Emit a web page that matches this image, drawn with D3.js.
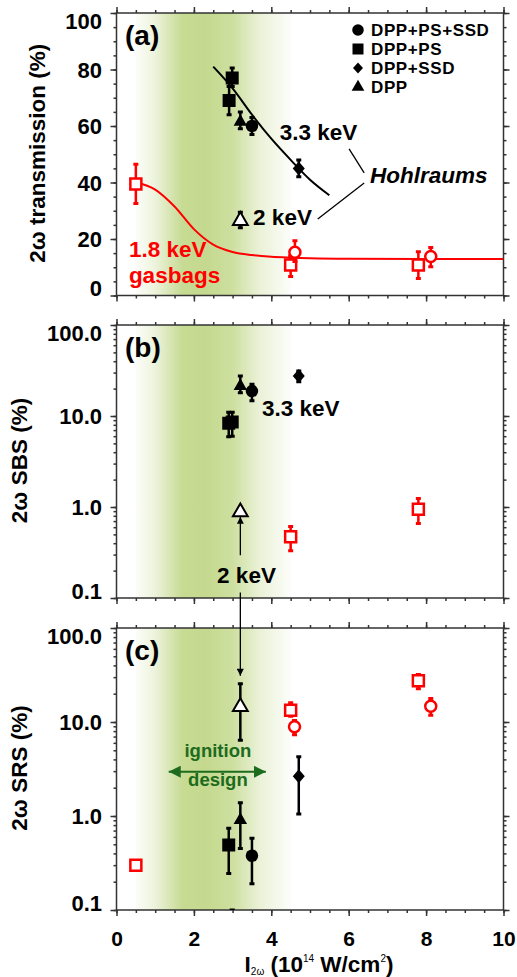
<!DOCTYPE html>
<html>
<head>
<meta charset="utf-8">
<script src="https://cdn.jsdelivr.net/npm/d3@7"></script>
<style>
body { margin: 0; background: #fff; }
text { font-family: "Liberation Sans", Arial, sans-serif; font-weight: bold; }
</style>
</head>
<body>
<script>
const svgWidth = 517; //Width of SVG.
const svgHeight = 977; //Height of SVG.
const plotLeft = 116.5, plotRight = 503.5;

//Tick values.
const xTicks = [0, 2, 4, 6, 8, 10];
const transTicks = [0, 20, 40, 60, 80, 100];
const logTicks = [0.1, 1, 10, 100];
const bandRange = [0.5, 4.5]; //ignition design band.

//Points are [intensity, value, errLow, errHigh].
//Panel (a) 2w transmission, 3.3 keV hohlraums.
const sqA = [[2.99, 77, 74, 80.5], [2.91, 69, 64, 74]];
const triA = [[3.2, 61.5, 59, 65]];
const circA = [[3.5, 60, 57, 63]];
const diaA = [[4.71, 45, 42, 48]];
const hohl2A = [[3.2, 26.5, 24, 29.5]];
const gasSqA = [[0.5, 39.5, 32.6, 46.5], [4.5, 10.8, 6.7, 14], [7.8, 10.8, 6, 15.5]];
const gasCircA = [[4.61, 15.3, 12, 19.4], [8.12, 13.8, 10.2, 17]];
//Fit curves.
const fitHohlX = [2.5, 3.0, 3.5, 4.0, 4.5, 5.0, 5.5];
const fitHohlY = [81, 73.3, 64, 55.5, 48, 41, 35.5];
const fitGasX = [0.5, 1.0, 1.5, 2.0, 2.5, 3.0, 3.5, 4.0, 4.5, 5.0, 6.0, 8.0, 10.0];
const fitGasY = [40, 37.5, 31.5, 23.5, 18, 15.4, 14.3, 13.7, 13.4, 13.2, 13.0, 12.9, 12.9];

//Panel (b) 2w SBS.
const sqB = [[2.9, 8.3, 5.9, 11], [2.99, 8.6, 6, 11]];
const triB = [[3.2, 21.3, 18, 27.5]];
const circB = [[3.5, 18.8, 14.7, 22.3]];
const diaB = [[4.71, 27.5, 23.8, 31.3]];
const hohl2B = [[3.2, 0.88]];
const gasSqB = [[4.5, 0.47, 0.33, 0.61], [7.8, 0.945, 0.66, 1.24]];
const gasCircB = [];

//Panel (c) 2w SRS.
const sqC = [[2.9, 0.49, 0.245, 0.74], [2.99, 0.05, 0.02, 0.1]];
const triC = [[3.2, 0.904, 0.45, 1.38]];
const circC = [[3.5, 0.378, 0.19, 0.58]];
const diaC = [[4.71, 2.65, 1.05, 4.27]];
const hohl2C = [[3.2, 14.5, 6.4, 25.6]];
const gasSqC = [[0.5, 0.30], [4.5, 13.3, 11.5, 16], [7.8, 27.4, 22.6, 32]];
const gasCircC = [[4.6, 8.88, 7.3, 10.4], [8.12, 14.7, 11.8, 17.8]];

const legendNames = ["DPP+PS+SSD", "DPP+PS", "DPP+SSD", "DPP"];

const axisColor = "#333";
const green = "#c4d98e";
const red = "#ff0000";

let svg = d3.select("body").append("svg")
	.attr("width", svgWidth)
	.attr("height", svgHeight);

let xScale = d3.scaleLinear().domain([0, 10]).range([plotLeft, plotRight]);

const panels = [
	{key: "a", label: "(a)", top: 13, bottom: 295.5, y: d3.scaleLinear().domain([0, 100]), major: transTicks, minor: d3.range(0, 101, 5), fmt: d3.format("d"), title: "2\u03c9 transmission (%)", titleX: 45,
		series: {sq: sqA, tri: triA, circ: circA, dia: diaA, hohl2: hohl2A, gasSq: gasSqA, gasCirc: gasCircA}},
	{key: "b", label: "(b)", top: 325, bottom: 598, y: d3.scaleLog().domain([0.1, 100]), major: logTicks, fmt: d3.format(".1f"), title: "2\u03c9 SBS (%)", titleX: 27,
		series: {sq: sqB, tri: triB, circ: circB, dia: diaB, hohl2: hohl2B, gasSq: gasSqB, gasCirc: gasCircB}},
	{key: "c", label: "(c)", top: 628, bottom: 910, y: d3.scaleLog().domain([0.1, 100]), major: logTicks, fmt: d3.format(".1f"), title: "2\u03c9 SRS (%)", titleX: 27,
		series: {sq: sqC, tri: triC, circ: circC, dia: diaC, hohl2: hohl2C, gasSq: gasSqC, gasCirc: gasCircC}}
];
panels.forEach(function(p) {
	p.y.range([p.bottom, p.top]);
	if (!p.minor) p.minor = p.y.ticks();
});

let defs = svg.append("defs");

//Green gradient band.
let grad = defs.append("linearGradient")
	.attr("id", "band")
	.attr("gradientUnits", "userSpaceOnUse")
	.attr("x1", xScale(bandRange[0])).attr("x2", xScale(bandRange[1]))
	.attr("y1", 0).attr("y2", 0);
[[0, 0.06], [0.12, 0.3], [0.3, 0.95], [0.45, 1], [0.62, 0.85], [0.8, 0.35], [1, 0.05]].forEach(function(s) {
	grad.append("stop").attr("offset", s[0]).attr("stop-color", green).attr("stop-opacity", s[1]);
});

function arrowMarker(id, color, w, h) {
	defs.append("marker")
		.attr("id", id)
		.attr("viewBox", "0 -5 10 10")
		.attr("refX", 10).attr("refY", 0)
		.attr("markerUnits", "userSpaceOnUse")
		.attr("markerWidth", w).attr("markerHeight", h)
		.attr("orient", "auto-start-reverse")
		.append("path").attr("d", "M0,-5L10,0L0,5Z").attr("fill", color);
}
arrowMarker("arrowBlack", "#000", 8, 7);
arrowMarker("arrowGreen", "#1d6b1d", 12, 12);

const diamondPath = "M0,-7L6,0L0,7L-6,0Z";
const shapes = {
	circ: d3.symbol().type(d3.symbolCircle).size(123)(),
	sq: d3.symbol().type(d3.symbolSquare).size(169)(),
	dia: diamondPath,
	tri: d3.symbol().type(d3.symbolTriangle).size(78)(),
	hohl2: d3.symbol().type(d3.symbolTriangle).size(95)(),
	gasSq: d3.symbol().type(d3.symbolSquare).size(121)(),
	gasCirc: d3.symbol().type(d3.symbolCircle).size(95)()
};
const styles = {
	circ: {fill: "#000", stroke: "none", color: "#000"},
	sq: {fill: "#000", stroke: "none", color: "#000"},
	dia: {fill: "#000", stroke: "none", color: "#000"},
	tri: {fill: "#000", stroke: "none", color: "#000"},
	hohl2: {fill: "#fff", stroke: "#000", sw: 2, color: "#000"},
	gasSq: {fill: "#fff", stroke: red, sw: 2.5, color: red},
	gasCirc: {fill: "#fff", stroke: red, sw: 2.5, color: red}
};

panels.forEach(function(p) {
	let g = svg.append("g").attr("class", "panel-" + p.key);
	let y = p.y;

	defs.append("clipPath").attr("id", "clip-" + p.key)
		.append("rect")
		.attr("x", plotLeft).attr("y", p.top)
		.attr("width", plotRight - plotLeft).attr("height", p.bottom - p.top);

	//Band.
	g.append("rect")
		.attr("x", xScale(bandRange[0]))
		.attr("y", p.top)
		.attr("width", xScale(bandRange[1]) - xScale(bandRange[0]))
		.attr("height", p.bottom - p.top)
		.attr("fill", "url(#band)");

	//Axes: major and minor ticks on all four sides, pointing out.
	function addAxis(axisFn, scale, values, size, transform, labels) {
		let ax = axisFn(scale).tickValues(values).tickSize(size).tickSizeOuter(0);
		if (!labels) ax.tickFormat("");
		let ag = g.append("g").attr("transform", transform).call(ax);
		ag.select(".domain").remove();
		ag.selectAll("line").attr("stroke", axisColor).attr("stroke-width", 1.5);
		return {ax: ax, ag: ag};
	}
	let left = addAxis(d3.axisLeft, y, p.major, 6, "translate(" + plotLeft + ",0)", true);
	left.ax.tickPadding(8.5).tickFormat(p.fmt);
	left.ag.call(left.ax).attr("font-size", 22).attr("fill", "#000");
	left.ag.select(".domain").remove();
	left.ag.selectAll("line").attr("stroke", axisColor).attr("stroke-width", 1.5);
	left.ag.selectAll("text").attr("fill", "#000")
		.attr("dy", function(d, i) {
			if (i === 0) return "0em";
			if (i === p.major.length - 1) return "0.72em";
			return "0.36em";
		});
	addAxis(d3.axisLeft, y, p.minor, 3, "translate(" + plotLeft + ",0)");
	addAxis(d3.axisRight, y, p.major, 6, "translate(" + plotRight + ",0)");
	addAxis(d3.axisRight, y, p.minor, 3, "translate(" + plotRight + ",0)");
	addAxis(d3.axisTop, xScale, xTicks, 6, "translate(0," + p.top + ")");
	addAxis(d3.axisTop, xScale, xScale.ticks(20), 3, "translate(0," + p.top + ")");
	addAxis(d3.axisBottom, xScale, xScale.ticks(20), 3, "translate(0," + p.bottom + ")");
	let bottom = addAxis(d3.axisBottom, xScale, xTicks, 6, "translate(0," + p.bottom + ")", p.key === "c");
	if (p.key === "c") {
		bottom.ax.tickPadding(15);
		bottom.ag.call(bottom.ax).attr("font-size", 21);
		bottom.ag.select(".domain").remove();
		bottom.ag.selectAll("line").attr("stroke", axisColor).attr("stroke-width", 1.5);
		bottom.ag.selectAll("text").attr("fill", "#000");
	}

	//Frame.
	g.append("rect")
		.attr("x", plotLeft).attr("y", p.top)
		.attr("width", plotRight - plotLeft).attr("height", p.bottom - p.top)
		.attr("fill", "none").attr("stroke", axisColor).attr("stroke-width", 1.5);

	//Y title.
	g.append("text")
		.attr("transform", "translate(" + p.titleX + "," + ((p.top + p.bottom) / 2 - 1) + ") rotate(-90)")
		.attr("text-anchor", "middle")
		.attr("font-size", 22.5)
		.text(p.title);

	//Panel label.
	g.append("text")
		.attr("x", plotLeft + 8.5).attr("y", p.top + 32)
		.attr("font-size", 28)
		.text(p.label);

	let marks = g.append("g").attr("clip-path", "url(#clip-" + p.key + ")");

	//Fit curves for panel (a).
	if (p.key === "a") {
		let line = d3.line().curve(d3.curveMonotoneX)
			.x(function(d) { return xScale(d[0]); })
			.y(function(d) { return y(d[1]); });
		marks.append("path")
			.datum(d3.zip(fitGasX, fitGasY))
			.attr("d", line).attr("fill", "none").attr("stroke", red).attr("stroke-width", 2);
		marks.append("path")
			.datum(d3.zip(fitHohlX, fitHohlY))
			.attr("d", line).attr("fill", "none").attr("stroke", "#000").attr("stroke-width", 2);
	}

	//Error bars and markers.
	["gasSq", "gasCirc", "hohl2", "sq", "tri", "circ", "dia"].forEach(function(k) {
		let data = p.series[k];
		let st = styles[k];
		let withErr = data.filter(function(d) { return d.length > 2; });
		marks.selectAll(".err-" + k)
			.data(withErr).enter()
			.append("line")
			.attr("x1", function(d) { return xScale(d[0]); })
			.attr("x2", function(d) { return xScale(d[0]); })
			.attr("y1", function(d) { return y(d[2]); })
			.attr("y2", function(d) { return y(d[3]); })
			.attr("stroke", st.color).attr("stroke-width", 2.5);
		[2, 3].forEach(function(j) {
			marks.selectAll(".cap" + j + "-" + k)
				.data(withErr).enter()
				.append("line")
				.attr("x1", function(d) { return xScale(d[0]) - 2.5; })
				.attr("x2", function(d) { return xScale(d[0]) + 2.5; })
				.attr("y1", function(d) { return y(d[j]); })
				.attr("y2", function(d) { return y(d[j]); })
				.attr("stroke", st.color).attr("stroke-width", 3);
		});
		marks.selectAll(".pt-" + k)
			.data(data).enter()
			.append("path")
			.attr("d", shapes[k])
			.attr("transform", function(d) { return "translate(" + xScale(d[0]) + "," + y(d[1]) + ")"; })
			.attr("fill", st.fill)
			.attr("stroke", st.stroke)
			.attr("stroke-width", st.sw || 0);
	});
});

let yA = panels[0].y, yB = panels[1].y, yC = panels[2].y;

//Panel (a) annotations.
let legend = svg.append("g");
["circ", "sq", "dia", "tri"].forEach(function(k, i) {
	let cy = 30 + i * 19;
	legend.append("path")
		.attr("d", k === "dia" ? "M0,-5.5L5,0L0,5.5L-5,0Z" : d3.symbol().type(k === "circ" ? d3.symbolCircle : k === "sq" ? d3.symbolSquare : d3.symbolTriangle).size(k === "sq" ? 121 : k === "circ" ? 105 : 70)())
		.attr("transform", "translate(358," + cy + ")")
		.attr("fill", "#000");
	legend.append("text")
		.attr("x", 371).attr("y", cy + 6)
		.attr("font-size", 17)
		.attr("letter-spacing", 0.6)
		.text(legendNames[i]);
});

function label(txt, xv, yPix, color, italic) {
	return svg.append("text")
		.attr("x", xScale(xv)).attr("y", yPix)
		.attr("font-size", 22.5)
		.attr("fill", color || "#000")
		.attr("font-style", italic ? "italic" : null)
		.text(txt);
}
label("3.3 keV", 4.22, yA(55));
label("Hohlraums", 6.55, yA(39.8), "#000", true);
label("2 keV", 3.53, yA(25));
label("1.8 keV", 0.32, yA(13.6), red);
label("gasbags", 0.32, yA(4.4), red);
[[[6.01, 51.9], [6.4, 43.4]], [[6.4, 39.8], [5.2, 27.1]]].forEach(function(seg) {
	svg.append("line")
		.attr("x1", xScale(seg[0][0])).attr("y1", yA(seg[0][1]))
		.attr("x2", xScale(seg[1][0])).attr("y2", yA(seg[1][1]))
		.attr("stroke", "#000").attr("stroke-width", 1.3);
});

//Panel (b) annotations.
label("3.3 keV", 3.76, yB(10));
label("2 keV", 2.6, yB(0.145));
svg.append("line")
	.attr("x1", xScale(3.2)).attr("x2", xScale(3.2))
	.attr("y1", yB(0.295)).attr("y2", yB(0.78))
	.attr("stroke", "#000").attr("stroke-width", 1.3)
	.attr("marker-end", "url(#arrowBlack)");
svg.append("line")
	.attr("x1", xScale(3.2)).attr("x2", xScale(3.2))
	.attr("y1", yB(0.115)).attr("y2", yC(31))
	.attr("stroke", "#000").attr("stroke-width", 1.3)
	.attr("marker-end", "url(#arrowBlack)");

//Panel (c) annotations.
const darkGreen = "#1d6b1d";
svg.append("text")
	.attr("x", xScale(2.62)).attr("y", yC(4.24))
	.attr("text-anchor", "middle").attr("font-size", 18.5).attr("fill", darkGreen)
	.text("ignition");
svg.append("text")
	.attr("x", xScale(2.62)).attr("y", yC(2.08))
	.attr("text-anchor", "middle").attr("font-size", 18.5).attr("fill", darkGreen)
	.text("design");
svg.append("line")
	.attr("x1", xScale(1.35)).attr("x2", xScale(3.86))
	.attr("y1", yC(2.96)).attr("y2", yC(2.96))
	.attr("stroke", darkGreen).attr("stroke-width", 2)
	.attr("marker-start", "url(#arrowGreen)")
	.attr("marker-end", "url(#arrowGreen)");

//X-axis title.
let xt = svg.append("text")
	.attr("x", 319).attr("y", 972)
	.attr("text-anchor", "middle")
	.attr("font-size", 22.5);
xt.append("tspan").text("I");
xt.append("tspan").attr("font-size", 10).attr("font-weight", "normal").attr("dy", 3).text("2\u03c9");
xt.append("tspan").attr("dy", -3).text(" (10");
xt.append("tspan").attr("font-size", 10).attr("font-weight", "normal").attr("dy", -10).text("14");
xt.append("tspan").attr("dy", 10).text(" W/cm");
xt.append("tspan").attr("font-size", 10).attr("font-weight", "normal").attr("dy", -10).text("2");
xt.append("tspan").attr("dy", 10).text(")");
</script>
</body>
</html>
